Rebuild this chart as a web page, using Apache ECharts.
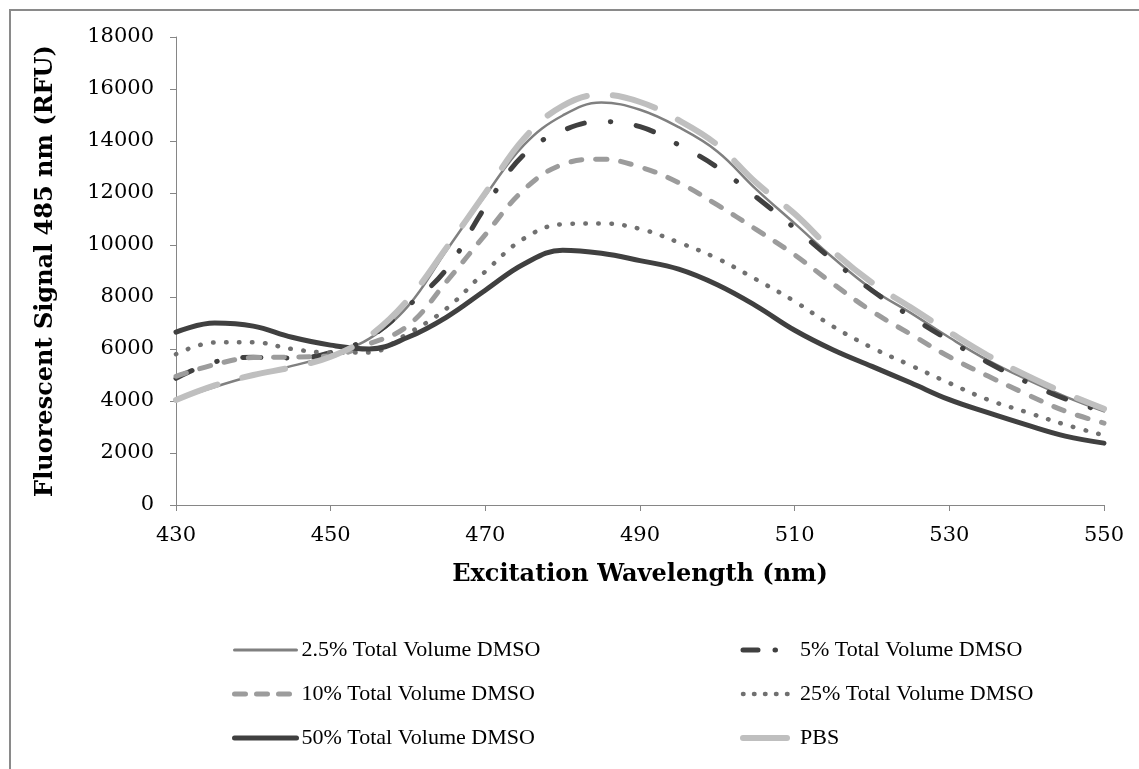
<!DOCTYPE html>
<html>
<head>
<meta charset="utf-8">
<script src="https://cdn.jsdelivr.net/npm/echarts@6/dist/echarts.min.js"></script>
<style>
html,body{margin:0;padding:0;background:#fff;}
#chart{width:1139px;height:769px;}
</style>
</head>
<body>
<div id="chart"></div>
<script>
// Excitation wavelength (nm)
const wavelengths = [430,435,440,445,450,455,460,465,470,475,480,485,490,495,500,505,510,515,520,525,530,535,540,545,550];
// Fluorescent signal (RFU)
const dmso2_5 = [4040,4540,4980,5350,5760,6400,7650,9800,11900,13850,14980,15480,15200,14530,13600,12150,10830,9500,8300,7390,6440,5560,4830,4170,3600];
const dmso5   = [4870,5500,5680,5650,5860,6450,7650,9080,11470,13480,14400,14750,14550,13850,12990,11850,10650,9400,8250,7250,6330,5480,4730,4080,3590];
const dmso10  = [4950,5400,5670,5690,5740,6200,6900,8600,10400,12130,13100,13300,13000,12400,11540,10600,9620,8500,7450,6570,5700,4960,4260,3610,3150];
const dmso25  = [5800,6250,6260,6000,5860,5870,6600,7560,8980,10250,10800,10830,10620,10100,9480,8680,7830,6860,6050,5370,4690,4050,3570,3090,2680];
const dmso50  = [6650,7000,6880,6450,6150,6000,6450,7230,8260,9270,9800,9680,9400,9070,8470,7660,6720,5960,5330,4700,4050,3550,3080,2650,2380];
const pbs     = [4040,4600,5000,5300,5700,6500,7900,9900,12000,14100,15350,15780,15500,14800,13850,12400,11200,9750,8550,7600,6650,5750,4980,4300,3700];

const seriesNames = ['2.5% Total Volume DMSO','5% Total Volume DMSO','10% Total Volume DMSO','25% Total Volume DMSO','50% Total Volume DMSO','PBS'];
const yTicks = {min:0, max:18000, interval:2000};
const xTicks = {min:430, max:550, interval:20};

function pairs(vals){ return wavelengths.map((w,i)=>[w, vals[i]]); }

const chart = echarts.init(document.getElementById('chart'));
const serif = 'DejaVu Serif';
const styles = [
  {color:'#808080', width:2.5, legendWidth:3, type:'solid', legendType:'solid'},
  {color:'#404040', width:5, legendWidth:5, type:[18,26,0.5,26], legendType:[15,17,0.5,40]},
  {color:'#9c9c9c', width:5, legendWidth:5, type:[11,14], legendType:[11,11]},
  {color:'#707070', width:4.5, legendWidth:4.5, type:[0.5,12.5], legendType:[0.5,10.5]},
  {color:'#404040', width:5, legendWidth:5, type:'solid', legendType:'solid'},
  {color:'#bfbfbf', width:6, legendWidth:6, type:[44,26], legendType:[44,26]}
];
const dataSets = [dmso2_5, dmso5, dmso10, dmso25, dmso50, pbs];

const series = dataSets.map((d,i)=>({
  name: seriesNames[i],
  type:'line',
  data: pairs(d),
  smooth: 0.4,
  symbol:'none',
  itemStyle:{color: styles[i].color},
  lineStyle:{color: styles[i].color, width: styles[i].width, type: styles[i].type, cap:'round', join:'round'}
}));

function legendItem(i){
  return {name: seriesNames[i],
    itemStyle:{opacity:0},
    lineStyle:{color: styles[i].color, width: styles[i].legendWidth, type: styles[i].legendType, cap:'round'}};
}

const legendText = {fontFamily:'Liberation Serif', fontSize:22, color:'#000', lineHeight:24};

chart.setOption({
  animation:false,
  backgroundColor:'#fff',
  graphic:[{type:'rect', shape:{x:10,y:10,width:1300,height:1000}, style:{fill:'none', stroke:'#8a8a8a', lineWidth:2}, silent:true}],
  grid:{left:176, right:35, top:37, bottom:264},
  xAxis:{
    type:'value', min:xTicks.min, max:xTicks.max, interval:xTicks.interval,
    name:'Excitation Wavelength (nm)', nameLocation:'middle', nameGap:58,
    nameTextStyle:{fontFamily:serif, fontWeight:'bold', fontSize:24, color:'#000'},
    axisLine:{show:true, lineStyle:{color:'#868686', width:1}},
    axisTick:{show:true, length:6, inside:false, lineStyle:{color:'#868686'}},
    axisLabel:{fontFamily:serif, fontSize:21, color:'#000', margin:20},
    splitLine:{show:false}
  },
  yAxis:{
    type:'value', min:yTicks.min, max:yTicks.max, interval:yTicks.interval,
    name:'Fluorescent Signal 485 nm (RFU)', nameLocation:'middle', nameGap:118,
    nameTextStyle:{fontFamily:serif, fontWeight:'bold', fontSize:24, color:'#000'},
    axisLine:{show:true, lineStyle:{color:'#868686', width:1}},
    axisTick:{show:true, length:6, inside:false, lineStyle:{color:'#868686'}},
    axisLabel:{fontFamily:serif, fontSize:21, color:'#000', margin:22, formatter: v => String(v)},
    splitLine:{show:false}
  },
  legend:[
    {data:[legendItem(0), legendItem(2), legendItem(4)], orient:'vertical', left:232, top:638, padding:0,
     itemWidth:62, itemHeight:14, itemGap:20, textStyle:legendText, selectedMode:false},
    {data:[legendItem(1), legendItem(3), legendItem(5)], orient:'vertical', left:740, top:638, padding:0,
     itemWidth:52, itemHeight:14, itemGap:20, textStyle:legendText, selectedMode:false}
  ],
  series: series
});
</script>
</body>
</html>
